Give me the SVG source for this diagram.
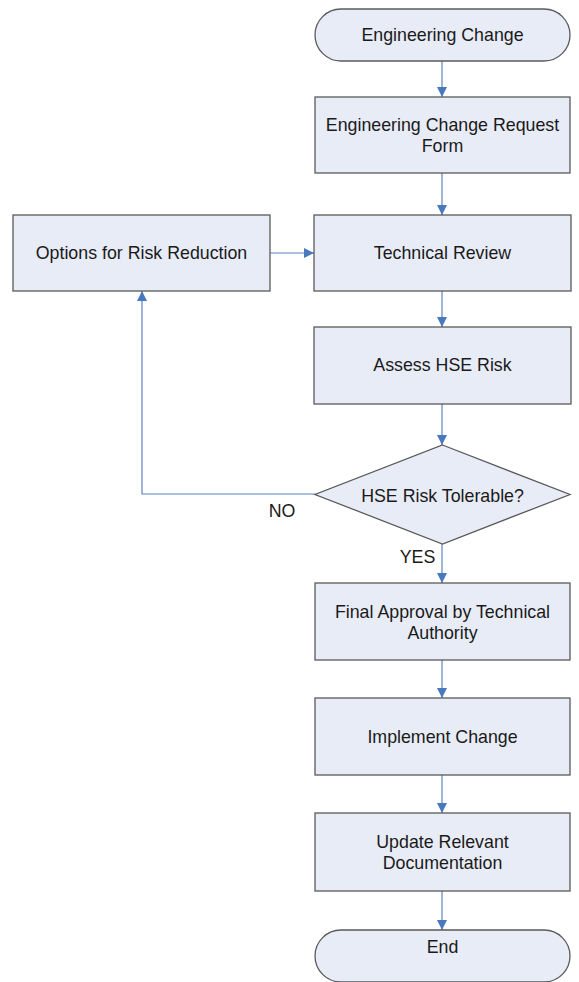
<svg xmlns="http://www.w3.org/2000/svg" width="579" height="982" viewBox="0 0 579 982">
<style>
.n{fill:#e8ecf7;stroke:#5a5a5a;stroke-width:1.3}
.t{font-family:"Liberation Sans",Arial,sans-serif;font-size:17.8px;fill:#1a1a1a;text-anchor:middle}
.c{fill:none;stroke:#5b84bf;stroke-width:1.2}
</style>
<defs>
<marker id="ah" viewBox="0 0 10 10" refX="10" refY="5" markerWidth="10" markerHeight="10" markerUnits="userSpaceOnUse" orient="auto">
<path d="M0,0 L10,5 L0,10 Z" fill="#4a78bd"/>
</marker>
</defs>
<rect width="579" height="982" fill="#ffffff"/>
<g id="connectors">
<path class="c" d="M442,61 V97" marker-end="url(#ah)"/>
<path class="c" d="M442,173 V215" marker-end="url(#ah)"/>
<path class="c" d="M270,253 H314" marker-end="url(#ah)"/>
<path class="c" d="M442,291 V327" marker-end="url(#ah)"/>
<path class="c" d="M442,404 V445" marker-end="url(#ah)"/>
<path class="c" d="M315,494 H142 V291" marker-end="url(#ah)"/>
<path class="c" d="M442,544 V583" marker-end="url(#ah)"/>
<path class="c" d="M442,660 V698" marker-end="url(#ah)"/>
<path class="c" d="M442,775 V813" marker-end="url(#ah)"/>
<path class="c" d="M442,891 V930" marker-end="url(#ah)"/>
</g>
<g id="start">
<rect class="n" x="315" y="9" width="255" height="52" rx="26" ry="26"/>
<text class="t" x="442.5" y="41">Engineering Change</text>
</g>
<g id="ecr">
<rect class="n" x="315" y="97" width="255" height="76"/>
<text class="t" x="442.5" y="131">Engineering Change Request</text>
<text class="t" x="442.5" y="152">Form</text>
</g>
<g id="options">
<rect class="n" x="13" y="215" width="257" height="76"/>
<text class="t" x="141.5" y="259">Options for Risk Reduction</text>
</g>
<g id="review">
<rect class="n" x="314" y="215" width="257" height="76"/>
<text class="t" x="442.5" y="259">Technical Review</text>
</g>
<g id="assess">
<rect class="n" x="314" y="327" width="257" height="77"/>
<text class="t" x="442.5" y="371">Assess HSE Risk</text>
</g>
<g id="decision">
<polygon class="n" points="442.5,445 570,494.5 442.5,544 315,494.5"/>
<text class="t" x="442.5" y="502">HSE Risk Tolerable?</text>
</g>
<g id="labels">
<text class="t" x="282" y="517">NO</text>
<text class="t" x="417.5" y="563">YES</text>
</g>
<g id="approval">
<rect class="n" x="315" y="583" width="255" height="77"/>
<text class="t" x="442.5" y="618">Final Approval by Technical</text>
<text class="t" x="442.5" y="639">Authority</text>
</g>
<g id="implement">
<rect class="n" x="315" y="698" width="255" height="77"/>
<text class="t" x="442.5" y="743">Implement Change</text>
</g>
<g id="update">
<rect class="n" x="315" y="813" width="255" height="78"/>
<text class="t" x="442.5" y="848">Update Relevant</text>
<text class="t" x="442.5" y="869">Documentation</text>
</g>
<g id="end">
<rect class="n" x="315" y="930" width="255" height="52" rx="26" ry="26"/>
<text class="t" x="442.5" y="953">End</text>
</g>
</svg>
